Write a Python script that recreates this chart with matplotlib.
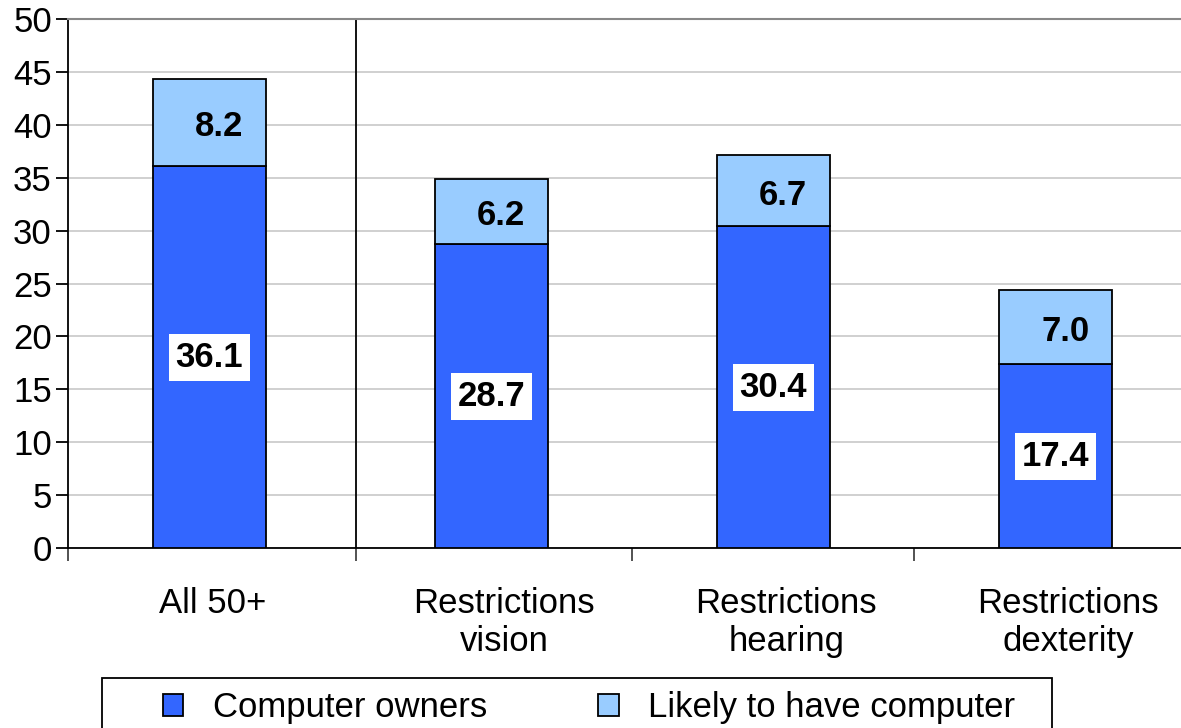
import numpy as np
import matplotlib.pyplot as plt
from matplotlib.patches import Rectangle

plt.rcParams['font.family'] = ['Liberation Sans', 'DejaVu Sans']

categories = ["All 50+", "Restrictions\nvision", "Restrictions\nhearing", "Restrictions\ndexterity"]
owners = [36.1, 28.7, 30.4, 17.4]
likely = [8.2, 6.2, 6.7, 7.0]
series_names = ["Computer owners", "Likely to have computer"]

dark_blue = "#3366FF"
light_blue = "#99CCFF"
fs = 25

fig = plt.figure(figsize=(11.81, 7.28), dpi=100)
ax = fig.add_axes([0.058, 0.247, 0.955, 0.727])

x = np.arange(len(categories))
b1 = ax.bar(x, owners, width=0.4, color=dark_blue, edgecolor="black", linewidth=1.3,
            label=series_names[0], zorder=3)
b2 = ax.bar(x, likely, width=0.4, bottom=owners, color=light_blue, edgecolor="black",
            linewidth=1.3, label=series_names[1], zorder=3)

# value labels
for i in range(len(categories)):
    ax.text(x[i], owners[i] / 2, f"{owners[i]:.1f}", ha="center", va="center",
            fontsize=fs, fontweight="bold", zorder=4,
            bbox=dict(boxstyle="square,pad=0.2", fc="white", ec="none"))
    ax.text(x[i] + 0.035, owners[i] + likely[i] / 2 - 0.4, f"{likely[i]:.1f}", ha="center",
            va="center", fontsize=fs, fontweight="bold", zorder=4)

ax.set_xlim(-0.5, 3.5)
ax.set_ylim(0, 50)
ax.set_yticks(np.arange(0, 51, 5))
ax.yaxis.grid(True, color="#c8c8c8", linewidth=1.2, zorder=0)
ax.set_axisbelow(True)

# category boundaries as ticks, labels as minor ticks
ax.set_xticks([-0.5, 0.52, 1.5, 2.5])
ax.set_xticklabels([])
ax.tick_params(axis="x", which="major", length=9, width=1.3, color="#444444")
label_shift = np.array([0.013, 0.046, 0.046, 0.046])
ax.set_xticks(x + label_shift, minor=True)
ax.set_xticklabels(categories, minor=True, fontsize=fs, linespacing=1.2)
ax.tick_params(axis="x", which="minor", length=0, pad=28)
ax.tick_params(axis="y", labelsize=fs, length=9, width=1.3, pad=3)

ax.axvline(0.52, color="black", linewidth=1.3, zorder=2)

for side in ["left", "bottom"]:
    ax.spines[side].set_linewidth(1.3)
    ax.spines[side].set_color("black")
ax.spines["top"].set_color("#888888")
ax.spines["top"].set_linewidth(1.5)
ax.spines["right"].set_visible(False)

# legend box (cut off by the bottom edge, as in the original)
W, H = 1181, 728
fig.patches.append(Rectangle((102 / W, -0.05), 950 / W, 0.05 + (H - 678) / H,
                             transform=fig.transFigure, fill=False, ec="black", lw=1.3))
fig.legend(handles=[b1, b2], labels=series_names, loc="center left",
           bbox_to_anchor=(163 / W, 1 - 708 / H), ncol=2, fontsize=fs, frameon=False,
           handlelength=0.58, handleheight=0.58, handletextpad=0.86, columnspacing=3.2,
           borderpad=0, borderaxespad=0)

fig.savefig("out.png", dpi=100)
